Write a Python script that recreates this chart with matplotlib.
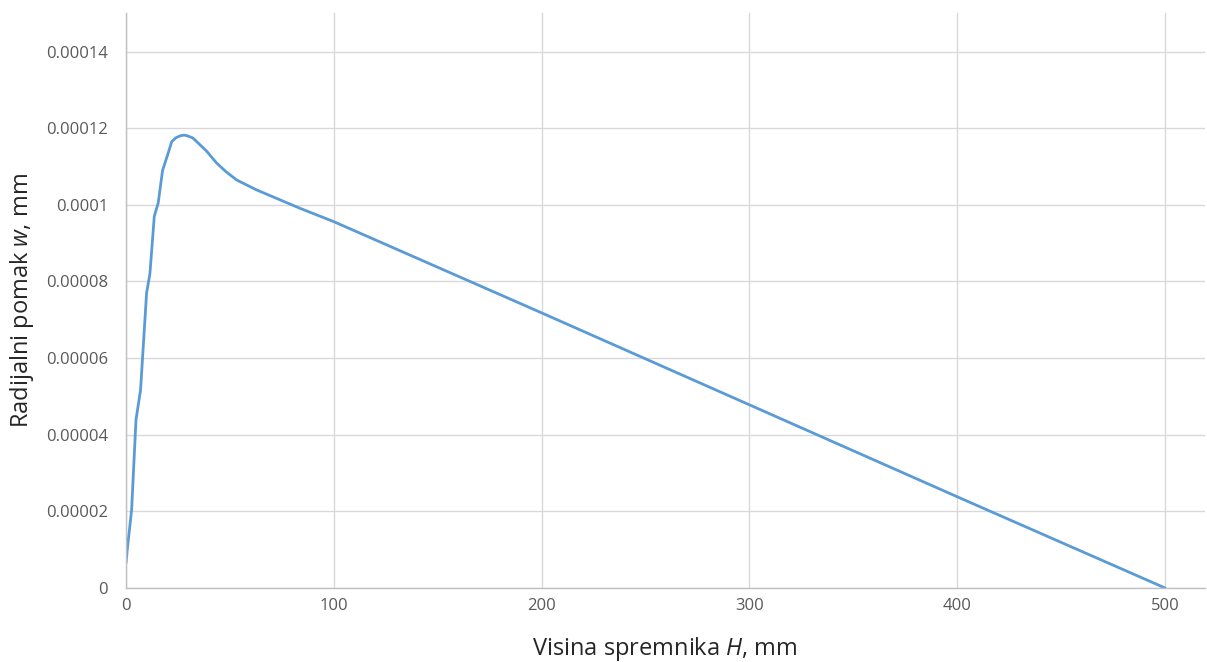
import matplotlib.pyplot as plt

plt.rcParams['font.family'] = ['Open Sans', 'DejaVu Sans']
plt.rcParams['mathtext.fontset'] = 'custom'
plt.rcParams['mathtext.it'] = 'Open Sans:italic'
plt.rcParams['mathtext.rm'] = 'Open Sans'

# Visina spremnika H (mm) and radijalni pomak w (mm)
H = [0, 0.6, 2.7, 4.8, 7.0, 9.9, 11.5, 13.6, 15.5, 17.6, 20, 22, 24, 26, 28, 29.5,
     32, 34, 38.8, 43.6, 48, 53.2, 62.8, 83.7, 100, 150, 200, 250, 300, 350, 400, 450, 500]
w = [6.5e-6, 1.0e-5, 2.04e-5, 4.39e-5, 5.17e-5, 7.7e-5, 8.2e-5, 9.7e-5, 1.005e-4, 1.09e-4,
     1.13e-4, 1.165e-4, 1.175e-4, 1.18e-4, 1.182e-4, 1.18e-4, 1.175e-4, 1.165e-4, 1.14e-4,
     1.109e-4, 1.087e-4, 1.065e-4, 1.039e-4, 9.91e-5, 9.56e-5, 8.37e-5, 7.18e-5, 5.98e-5,
     4.78e-5, 3.58e-5, 2.38e-5, 1.19e-5, 0.0]

x_ticks = [0, 100, 200, 300, 400, 500]
y_ticks = [0, 0.00002, 0.00004, 0.00006, 0.00008, 0.0001, 0.00012, 0.00014]
y_labels = ['0', '0.00002', '0.00004', '0.00006', '0.00008', '0.0001', '0.00012', '0.00014']

fig = plt.figure(figsize=(12.07, 6.62), dpi=100)
ax = fig.add_axes([0.1044, 0.1118, 0.8936, 0.8682])

ax.plot(H, w, color='#5B9BD5', linewidth=2.0, solid_capstyle='round')

ax.set_xlim(0, 519)
ax.set_ylim(0, 0.00015)
ax.set_xticks(x_ticks)
ax.set_yticks(y_ticks)
ax.set_yticklabels(y_labels)
ax.grid(True, color='#D9D9D9', linewidth=1.0)
ax.set_axisbelow(True)

for s in ['top', 'right']:
    ax.spines[s].set_visible(False)
for s in ['left', 'bottom']:
    ax.spines[s].set_color('#BFBFBF')
    ax.spines[s].set_linewidth(1.0)

ax.tick_params(length=0, labelsize=12, labelcolor='#595959')
ax.tick_params(axis='y', pad=13)
ax.tick_params(axis='x', pad=7)

ax.set_xlabel('Visina spremnika $H$, mm', fontsize=17, color='#262626', labelpad=15)
ax.set_ylabel('Radijalni pomak $w$, mm', fontsize=17, color='#262626', labelpad=7)

fig.savefig('out.png', dpi=100)
